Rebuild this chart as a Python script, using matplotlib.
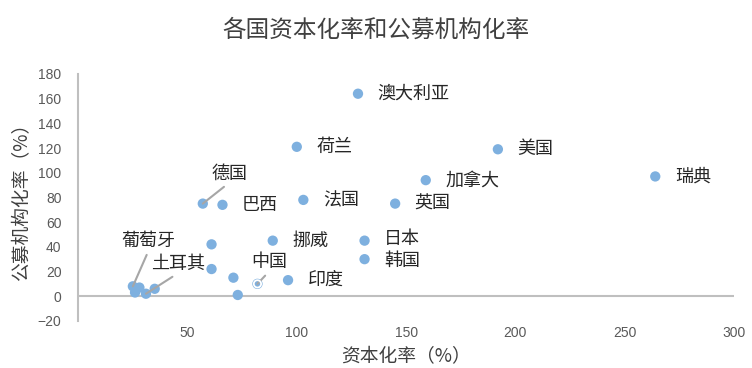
import matplotlib.pyplot as plt

plt.rcParams['font.family'] = ['Noto Sans CJK SC', 'DejaVu Sans']

# capitalization ratio (%) vs. institutional ratio of public funds (%)
names = ['澳大利亚', '荷兰', '美国', '加拿大', '瑞典', '德国', '巴西', '法国', '英国',
         '挪威', '日本', '韩国', '中国', '印度', '葡萄牙', '土耳其']
cap_rate = [128, 100, 192, 159, 264, 57, 66, 103, 145, 89, 131, 131, 82, 96, 25, 31]
inst_rate = [164, 121, 119, 94, 97, 75, 74, 78, 75, 45, 45, 30, 10, 13, 8, 2]

# unlabeled countries
other_cap = [61, 61, 71, 73, 26, 28, 35]
other_inst = [42, 22, 15, 1, 3, 7, 6]

# label offsets in points; True means a leader line is drawn
offsets = {
    '澳大利亚': (14, 0, False), '荷兰': (14, 0, False), '美国': (14, 0, False),
    '加拿大': (14, 0, False), '瑞典': (14, 0, False), '德国': (6, 15, True),
    '巴西': (14, 0, False), '法国': (14, 0, False), '英国': (14, 0, False),
    '挪威': (14, 0, False), '日本': (14, 1.5, False), '韩国': (14, -1, False),
    '中国': (-4.5, 9, True), '印度': (14, 0, False), '葡萄牙': (-8, 26, True),
    '土耳其': (4, 15, True),
}

fig = plt.figure(figsize=(7.52, 3.68), dpi=100)
ax = fig.add_axes([0.104, 0.128, 0.872, 0.671])

point_color = '#7eb0df'
ax.scatter(other_cap, other_inst, s=55, color=point_color, edgecolors='none', zorder=3)
ax.scatter(cap_rate, inst_rate, s=55, color=point_color, edgecolors='none', zorder=3)
ax.scatter([82], [10], s=28, facecolors='none', edgecolors='white', linewidths=1.3, zorder=4)

for name, x, y in zip(names, cap_rate, inst_rate):
    dx, dy, line = offsets[name]
    if line:
        ax.annotate(name, (x, y), xytext=(dx, dy), textcoords='offset points',
                    fontsize=13, color='#262626', ha='left', va='bottom',
                    arrowprops=dict(arrowstyle='-', color='#a6a6a6', lw=1.5,
                                    relpos=(0.5, 0), shrinkA=1.5, shrinkB=0))
    else:
        ax.annotate(name, (x, y), xytext=(dx, dy), textcoords='offset points',
                    fontsize=13, color='#262626', ha='left', va='center')

ax.axhline(0, color='#bfbfbf', lw=1.5, zorder=1)
ax.set_xlim(0, 300)
ax.set_ylim(-20, 180)
ax.set_xticks([50, 100, 150, 200, 250, 300])
ax.set_yticks(range(-20, 181, 20))
ax.tick_params(axis='x', length=0, labelsize=10, colors='#595959', pad=4)
ax.tick_params(axis='y', length=0, labelsize=10, colors='#595959', pad=12)
for lbl in ax.get_xticklabels() + ax.get_yticklabels():
    lbl.set_family('Liberation Sans')
for side in ['top', 'right', 'bottom']:
    ax.spines[side].set_visible(False)
ax.spines['left'].set_color('#bfbfbf')
ax.spines['left'].set_linewidth(1.5)

ax.set_xlabel('资本化率（%）', fontsize=13.5, color='#404040', labelpad=4)
ax.set_ylabel('公募机构化率（%）', fontsize=13.5, color='#404040', labelpad=4)
fig.suptitle('各国资本化率和公募机构化率', fontsize=17, color='#404040', y=0.95)

fig.savefig('out.png', dpi=100)
